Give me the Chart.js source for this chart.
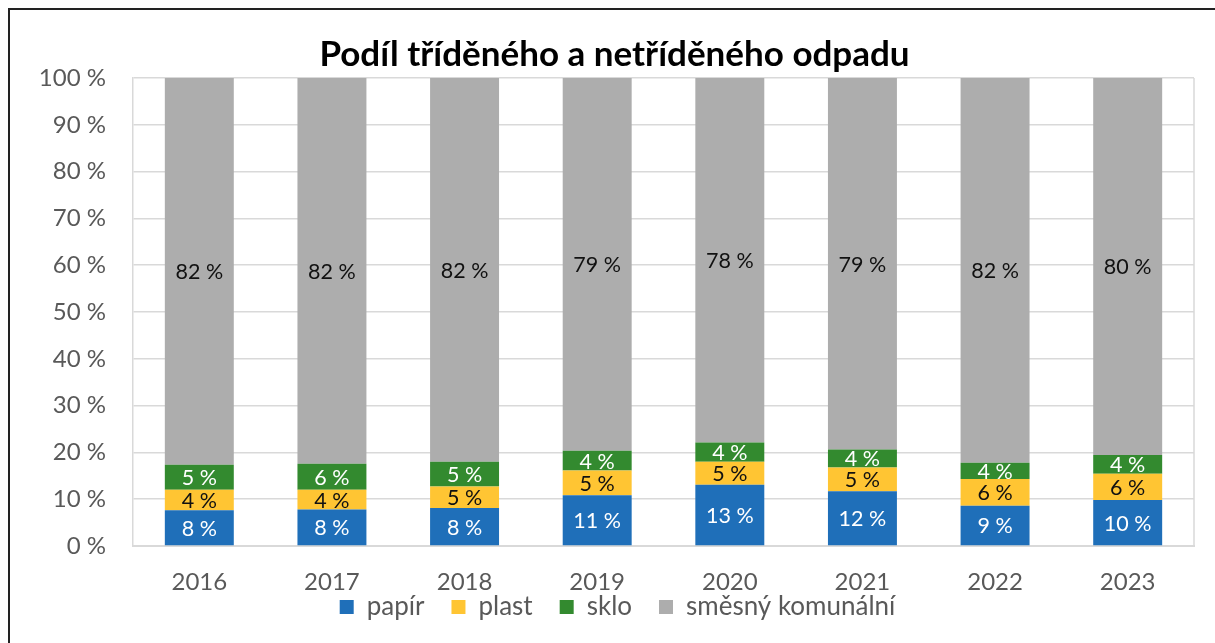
<!DOCTYPE html>
<html>
<head>
<meta charset="utf-8">
<script src="https://cdn.jsdelivr.net/npm/chart.js@4.4.1/dist/chart.umd.min.js"></script>
<style>
  html, body { margin: 0; padding: 0; background: #ffffff; overflow: hidden; }
  #frame { position: absolute; left: 8px; top: 8px; width: 1240px; height: 700px; border: 2px solid #222; box-sizing: border-box; }
  #wrap { position: absolute; left: 0; top: 0; width: 1215px; height: 643px; }
</style>
</head>
<body>
<div id="frame"></div>
<div id="wrap"><canvas id="c" width="1215" height="643"></canvas></div>
<script>
const years = ['2016', '2017', '2018', '2019', '2020', '2021', '2022', '2023'];
const papir = [7.6, 7.8, 8.1, 10.8, 13.1, 11.7, 8.6, 9.8];
const plast = [4.4, 4.2, 4.6, 5.3, 4.9, 5.1, 5.7, 5.6];
const sklo = [5.3, 5.6, 5.3, 4.2, 4.1, 3.8, 3.5, 4.0];
const smesny = [82.4, 82.4, 82.0, 79.4, 77.9, 79.4, 82.2, 80.4];
const seriesNames = ['papír', 'plast', 'sklo', 'směsný komunální'];
const yTicks = [0, 10, 20, 30, 40, 50, 60, 70, 80, 90, 100];

const raw = [papir, plast, sklo, smesny];
const totals = years.map((_, i) => raw.reduce((s, arr) => s + arr[i], 0));
const norm = arr => arr.map((v, i) => v / totals[i] * 100);

const colors = ['#1F6FB9', '#FFC533', '#338A2F', '#ADADAD'];
const labelColors = ['#ffffff', '#111111', '#ffffff', '#111111'];
const FONT = 'Lato, "Open Sans", sans-serif';

const labelPlugin = {
  id: 'segLabels',
  afterDatasetsDraw(chart) {
    const ctx = chart.ctx;
    ctx.save();
    ctx.font = '21.5px ' + FONT;
    ctx.textAlign = 'center';
    ctx.textBaseline = 'middle';
    chart.data.datasets.forEach((ds, di) => {
      const meta = chart.getDatasetMeta(di);
      meta.data.forEach((bar, i) => {
        const p = bar.getProps(['x', 'y', 'base'], true);
        ctx.fillStyle = labelColors[di];
        ctx.fillText(Math.round(raw[di][i]) + ' %', p.x, (p.y + p.base) / 2 + 1);
      });
    });
    ctx.restore();
  }
};

const framePlugin = {
  id: 'plotFrame',
  afterLayout(chart) {
    const lg = chart.legend;
    if (lg) {
      const h = lg.bottom - lg.top;
      lg.top = 567; lg.bottom = 567 + h;
      lg.left += 3; lg.right += 3;
    }
  },
  afterDraw(chart) {
    const a = chart.chartArea, ctx = chart.ctx;
    ctx.save();
    ctx.strokeStyle = '#D9D9D9';
    ctx.lineWidth = 1.5;
    ctx.beginPath();
    ctx.moveTo(a.right, a.top); ctx.lineTo(a.right, a.bottom);
    ctx.stroke();
    ctx.restore();
  }
};

new Chart(document.getElementById('c'), {
  type: 'bar',
  data: {
    labels: years,
    datasets: raw.map((arr, i) => ({
      label: seriesNames[i],
      data: norm(arr),
      backgroundColor: colors[i],
      borderWidth: 0,
      categoryPercentage: 1,
      barPercentage: 0.52
    }))
  },
  options: {
    responsive: false,
    animation: false,
    devicePixelRatio: 1,
    layout: { padding: { left: 35, right: 21, top: 0, bottom: -14 } },
    plugins: {
      title: {
        display: true,
        text: 'Podíl tříděného a netříděného odpadu',
        color: '#000000',
        font: { family: FONT, size: 35, weight: 'bold', lineHeight: 1.2 },
        padding: { top: 34, bottom: 2 }
      },
      legend: {
        position: 'bottom',
        labels: {
          color: '#595959',
          font: { family: FONT, size: 26 },
          boxWidth: 14,
          boxHeight: 14,
          padding: 27
        }
      },
      tooltip: { enabled: false }
    },
    scales: {
      x: {
        stacked: true,
        afterFit(scale) { scale.height = 48; },
        grid: { display: false, drawTicks: false },
        border: { display: true, color: '#D9D9D9', width: 2 },
        ticks: { color: '#595959', font: { family: FONT, size: 24, lineHeight: 1 }, padding: 24 }
      },
      y: {
        stacked: true,
        min: 0,
        max: 100,
        afterFit(scale) { scale.width = 98; },
        afterBuildTicks(scale) { scale.ticks = yTicks.map(v => ({ value: v })); },
        grid: { color: '#D9D9D9', lineWidth: 1.5, drawTicks: false },
        border: { display: true, color: '#D9D9D9', width: 1.5 },
        ticks: {
          color: '#595959',
          font: { family: FONT, size: 24 },
          padding: 27,
          callback: v => v + ' %'
        }
      }
    }
  },
  plugins: [labelPlugin, framePlugin]
});
</script>
</body>
</html>
